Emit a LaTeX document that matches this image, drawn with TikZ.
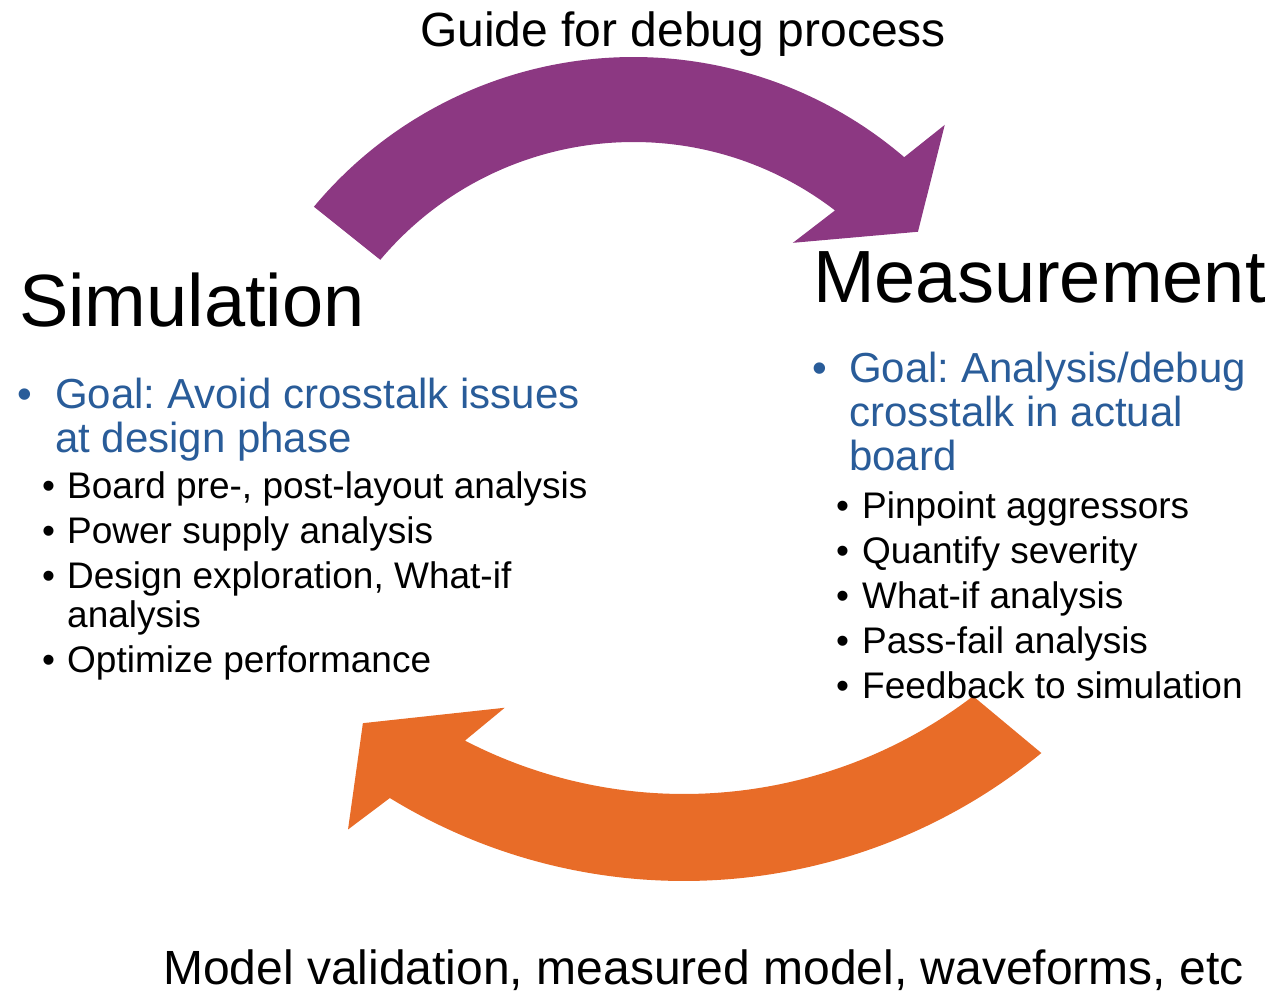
\documentclass[tikz,border=0pt]{standalone}
\usepackage{fontspec}
\setmainfont{Liberation Sans}
\usetikzlibrary{calc}
\definecolor{arcpurple}{RGB}{140,56,130}
\definecolor{arcorange}{RGB}{232,108,40}
\definecolor{goalblue}{RGB}{41,92,153}
\frenchspacing
\begin{document}
\begin{tikzpicture}[x=1pt,y=-1pt,
  txt/.style={inner sep=0pt,anchor=base west},
  headtxt/.style={txt,font=\fontsize{74}{80}\selectfont},
  labeltxt/.style={txt,font=\fontsize{48}{52}\selectfont},
  goaltxt/.style={txt,font=\fontsize{42}{44}\selectfont,text=goalblue},
  itemtxt/.style={txt,font=\fontsize{37}{40}\selectfont}]
\useasboundingbox (0,0) rectangle (1276,994);

% centres of the two block-arc arrows
\coordinate (pc) at (633.5,473);
\coordinate (oc) at (684,318);

% upper arrow: Simulation -> Measurement
\fill[arcpurple] ($(pc)+(-140.2:416)$) arc[start angle=-140.2, end angle=-49.4, radius=416]
  -- ($(pc)+(-48.2:467)$) -- ($(pc)+(-40.3:373)$) -- ($(pc)+(-55.3:280)$)
  -- ($(pc)+(-52.5:331)$) arc[start angle=-52.5, end angle=-139.9, radius=331] -- cycle;

% lower arrow: Measurement -> Simulation
\fill[arcorange] ($(oc)+(50.6:563)$) arc[start angle=50.6, end angle=121.5, radius=563]
  -- ($(oc)+(123.3:612)$) -- ($(oc)+(128.4:517)$) -- ($(oc)+(114.7:429)$)
  -- ($(oc)+(117.4:476)$) arc[start angle=117.4, end angle=52.6, radius=476] -- cycle;

% headings and arrow labels
\node[labeltxt] (guide) at (420,46) {Guide for debug process};
\node[headtxt] (sim) at (19,326) {Simulation};
\node[headtxt] (meas) at (813,302) {Measurement};
\node[labeltxt] (model) at (163,984) {Model validation, measured model, waveforms, etc};

% simulation goal and tasks
\node[goaltxt] (sgb) at (17,408) {•};
\node[goaltxt] (sg1) at (55,408) {Goal: Avoid crosstalk issues};
\node[goaltxt] (sg2) at (55,452) {at design phase};
\foreach \n/\y/\t in {s1/498/{Board pre-, post-layout analysis},
                      s2/543/{Power supply analysis},
                      s3/588/{Design exploration, What-if}}{
  \node[itemtxt] (\n b) at (42,\y) {•};
  \node[itemtxt] (\n) at (67,\y) {\t};
}
\node[itemtxt] (s3c) at (67,627) {analysis};
\node[itemtxt] (s4b) at (42,672) {•};
\node[itemtxt] (s4) at (67,672) {Optimize performance};

% measurement goal and tasks
\node[goaltxt] (mgb) at (812,382) {•};
\node[goaltxt] (mg1) at (849,382) {Goal: Analysis/debug};
\node[goaltxt] (mg2) at (849,426) {crosstalk in actual};
\node[goaltxt] (mg3) at (849,470) {board};
\foreach \n/\y/\t in {m1/518/{Pinpoint aggressors},
                      m2/563/{Quantify severity},
                      m3/608/{What-if analysis},
                      m4/653/{Pass-fail analysis},
                      m5/698/{Feedback to simulation}}{
  \node[itemtxt] (\n b) at (836,\y) {•};
  \node[itemtxt] (\n) at (862,\y) {\t};
}
\end{tikzpicture}
\end{document}
